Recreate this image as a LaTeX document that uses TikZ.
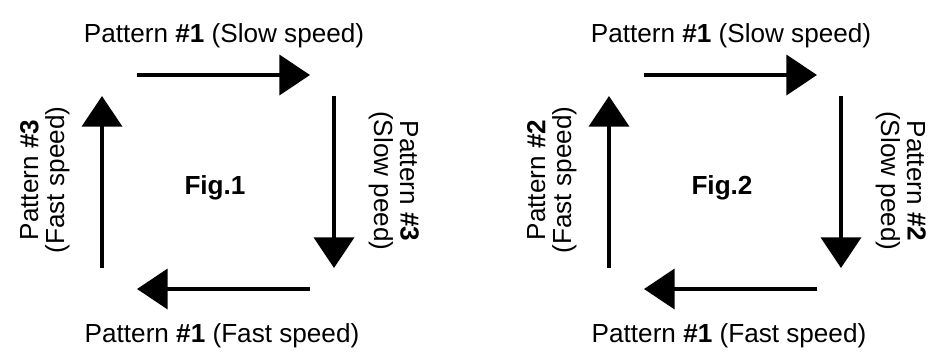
\documentclass[tikz,border=0pt]{standalone}
\usepackage{fontspec}
\setmainfont{Liberation Sans}
\usetikzlibrary{arrows.meta}

\tikzstyle{pattxt} = [font=\fontsize{19.6}{19.6}\selectfont, inner sep=0pt]
\tikzstyle{sidetxt} = [pattxt, align=center]
\tikzstyle{figtxt} = [pattxt, font=\fontsize{19.6}{19.6}\selectfont\bfseries]
\tikzstyle{arrow} = [line width=3pt, -{Triangle[length=23pt, width=30pt]}]

\begin{document}
\begin{tikzpicture}[x=0.75pt, y=-0.75pt]
\useasboundingbox (0,0) rectangle (931,351);

% Fig.1 arrow ends
\coordinate (top1a) at (137,75);
\coordinate (top1b) at (310,75);
\coordinate (right1a) at (334,96);
\coordinate (right1b) at (334,268);
\coordinate (bot1a) at (310,289);
\coordinate (bot1b) at (137,289);
\coordinate (left1a) at (102,268);
\coordinate (left1b) at (102,96);

% Fig.1 texts
\node (top1) [pattxt, anchor=base] at (224,42) {Pattern \textbf{\#1} (Slow speed)};
\node (bot1) [pattxt, anchor=base] at (222,342) {Pattern \textbf{\#1} (Fast speed)};
\node (left1) [sidetxt, rotate=90] at (45,180) {Pattern \textbf{\#3}\\(Fast speed)};
\node (right1) [sidetxt, rotate=-90] at (394,181) {Pattern \textbf{\#3}\\(Slow peed)};
\node (fig1) [figtxt] at (215,188) {Fig.1};

% Fig.1 arrows
\draw [arrow] (top1a) -- (top1b);
\draw [arrow] (right1a) -- (right1b);
\draw [arrow] (bot1a) -- (bot1b);
\draw [arrow] (left1a) -- (left1b);

% Fig.2 arrow ends
\coordinate (top2a) at (644,75);
\coordinate (top2b) at (817,75);
\coordinate (right2a) at (841,96);
\coordinate (right2b) at (841,268);
\coordinate (bot2a) at (817,289);
\coordinate (bot2b) at (644,289);
\coordinate (left2a) at (609,268);
\coordinate (left2b) at (609,96);

% Fig.2 texts
\node (top2) [pattxt, anchor=base] at (731,42) {Pattern \textbf{\#1} (Slow speed)};
\node (bot2) [pattxt, anchor=base] at (729,342) {Pattern \textbf{\#1} (Fast speed)};
\node (left2) [sidetxt, rotate=90] at (552,180) {Pattern \textbf{\#2}\\(Fast speed)};
\node (right2) [sidetxt, rotate=-90] at (901,181) {Pattern \textbf{\#2}\\(Slow peed)};
\node (fig2) [figtxt] at (722,188) {Fig.2};

% Fig.2 arrows
\draw [arrow] (top2a) -- (top2b);
\draw [arrow] (right2a) -- (right2b);
\draw [arrow] (bot2a) -- (bot2b);
\draw [arrow] (left2a) -- (left2b);

\end{tikzpicture}
\end{document}
